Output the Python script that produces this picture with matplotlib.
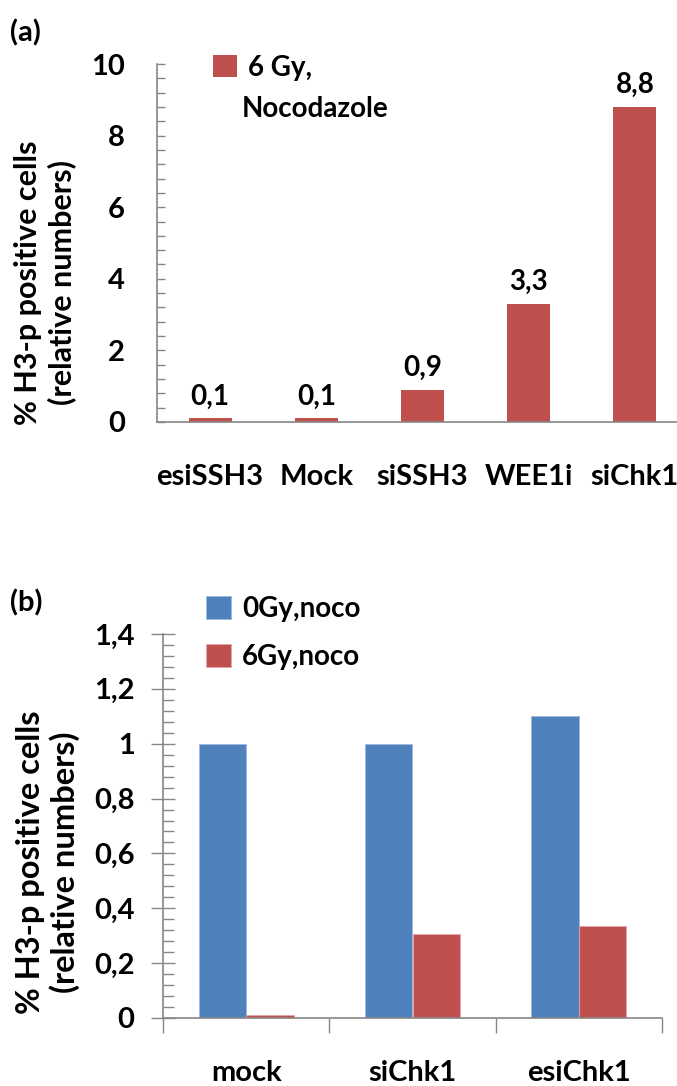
import matplotlib.pyplot as plt
import numpy as np

# panel (a)
a_categories = ['esiSSH3', 'Mock', 'siSSH3', 'WEE1i', 'siChk1']
a_values = [0.1, 0.1, 0.9, 3.3, 8.8]
a_labels = ['0,1', '0,1', '0,9', '3,3', '8,8']
a_yticks = [0, 2, 4, 6, 8, 10]
a_yticklabels = ['0', '2', '4', '6', '8', '10']

# panel (b)
b_categories = ['mock', 'siChk1', 'esiChk1']
b_0gy = [1.0, 1.0, 1.1]
b_6gy = [0.01, 0.305, 0.335]
b_yticks = [0, 0.2, 0.4, 0.6, 0.8, 1.0, 1.2, 1.4]
b_yticklabels = ['0', '0,2', '0,4', '0,6', '0,8', '1', '1,2', '1,4']

RED = '#C0504D'
BLUE = '#4F81BD'
GRAY = '#868686'
FS = 20

plt.rcParams['font.family'] = ['Lato', 'DejaVu Sans']
plt.rcParams['font.weight'] = 'bold'

W, H = 677, 1086
fig = plt.figure(figsize=(W / 100, H / 100), dpi=100)


def px_axes(left, top, right, bottom):
    return fig.add_axes([left / W, 1 - bottom / H, (right - left) / W, (bottom - top) / H])


def fx(px):
    return px / W


def fy(py):
    return 1 - py / H


def style_axis(ax):
    for side in ['top', 'right']:
        ax.spines[side].set_visible(False)
    for side in ['left', 'bottom']:
        ax.spines[side].set_color(GRAY)
        ax.spines[side].set_linewidth(1.2)


# ---- (a) ----
ax1 = px_axes(157, 64, 157 + 5 * 106.2, 422)
x1 = np.arange(len(a_categories))
bars = ax1.bar(x1, a_values, width=0.405, color=RED, label='6 Gy,')
for xi, v, s in zip(x1, a_values, a_labels):
    ax1.text(xi, v + 0.25, s, ha='center', va='bottom', fontsize=FS, fontweight='bold')
ax1.set_xlim(-0.5, len(a_categories) - 0.5)
ax1.set_ylim(0, 10)
ax1.set_yticks(a_yticks)
ax1.set_yticklabels(a_yticklabels)
ax1.set_yticks(np.arange(0, 10.01, 0.4), minor=True)
ax1.tick_params(axis='y', which='both', direction='in', length=6, color=GRAY, width=1, pad=23, labelsize=FS + 1)
ax1.set_xticks(x1)
ax1.set_xticklabels(a_categories)
ax1.tick_params(axis='x', length=0, pad=30, labelsize=FS + 1)
style_axis(ax1)
ax1.legend(handles=[bars], loc='upper left', bbox_to_anchor=(fx(213), fy(55)),
           bbox_transform=fig.transFigure, frameon=False, fontsize=FS,
           handlelength=0.85, handleheight=0.85, handletextpad=0.4, borderpad=0, borderaxespad=0)
fig.text(fx(242), fy(117), 'Nocodazole', ha='left', va='baseline', fontsize=FS, fontweight='bold')
fig.text(fx(45), fy(283), '% H3-p positive cells\n(relative numbers)', rotation=90,
         ha='center', va='center', fontsize=22, fontweight='bold', multialignment='center',
         linespacing=1.2)
fig.text(fx(10), fy(33), '(a)', ha='left', va='center', fontsize=FS + 1, fontweight='bold')

# ---- (b) ----
ax2 = px_axes(163, 634, 662, 1018)
x2 = np.arange(len(b_categories))
bw = 0.285
b1 = ax2.bar(x2 - bw / 2, b_0gy, width=bw, color=BLUE, edgecolor='#9DB9DE', linewidth=0.6, label='0Gy,noco')
b2 = ax2.bar(x2 + bw / 2, b_6gy, width=bw, color=RED, edgecolor='#E3A9A8', linewidth=0.6, label='6Gy,noco')
ax2.set_xlim(-0.5, len(b_categories) - 0.5)
ax2.set_ylim(0, 1.4)
ax2.set_yticks(b_yticks)
ax2.set_yticklabels(b_yticklabels)
ax2.set_yticks(np.arange(0, 1.401, 0.04), minor=True)
ax2.tick_params(axis='y', which='major', direction='inout', length=17, color=GRAY, width=1, pad=12, labelsize=FS + 1)
ax2.tick_params(axis='y', which='minor', direction='in', length=8, color=GRAY, width=1)
ax2.set_xticks(np.arange(-0.5, len(b_categories), 1.0))
ax2.set_xticklabels([])
ax2.set_xticks(x2, minor=True)
ax2.set_xticklabels(b_categories, minor=True)
ax2.tick_params(axis='x', which='major', direction='out', length=11, color=GRAY, width=1)
ax2.tick_params(axis='x', which='minor', length=0, pad=30, labelsize=FS + 1)
style_axis(ax2)
ax2.legend(handles=[b1, b2], loc='upper left', bbox_to_anchor=(fx(206), fy(596)),
           bbox_transform=fig.transFigure, frameon=False, fontsize=FS,
           handlelength=0.9, handleheight=0.9, handletextpad=0.4, labelspacing=0.8,
           borderpad=0, borderaxespad=0)
fig.text(fx(48), fy(862), '% H3-p positive cells\n(relative numbers)', rotation=90,
         ha='center', va='center', fontsize=23.5, fontweight='bold', multialignment='center',
         linespacing=1.15)
fig.text(fx(10), fy(603), '(b)', ha='left', va='center', fontsize=FS + 1, fontweight='bold')

fig.savefig('out.png', dpi=100)
